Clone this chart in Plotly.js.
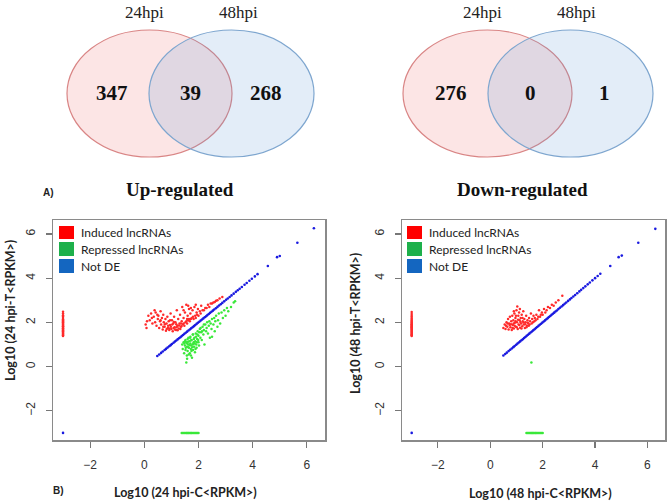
<!DOCTYPE html>
<html>
<head>
<meta charset="utf-8">
<script src="https://cdn.plot.ly/plotly-3.0.1.min.js"></script>
<style>html,body{margin:0;padding:0;background:#fff;}#chart{width:669px;height:502px;}</style>
</head>
<body>
<div id="chart"></div>
<script>
// ---------------- DATA ----------------
const vennSets = ['24hpi', '48hpi'];
const upCounts = [347, 39, 268];     // only 24hpi, both, only 48hpi
const downCounts = [276, 0, 1];
const vennTitles = ['Up-regulated', 'Down-regulated'];
const legendLabels = ['Induced lncRNAs', 'Repressed lncRNAs', 'Not DE'];
const xTitles = ['Log10 (24 hpi-C&lt;RPKM&gt;)', 'Log10 (48 hpi-C&lt;RPKM&gt;)'];
const yTitles = ['Log10 (24 hpi-T&lt;RPKM&gt;)', 'Log10 (48 hpi-T&lt;RPKM&gt;)'];
const tickVals = [-2, 0, 2, 4, 6];

// 24 hpi - induced (red)
const induced24X = [-3,-3,-3,-3,-3,-3,-3,-3,-3,-3,-3,-3,-3,-3,-3,-3,-3,-3,-3,-3,-3,-3,-3,-3,-3,-3,-3,
 0.05,0.08,0.15,0.2,0.25,0.3,0.35,0.4,0.42,0.45,0.5,0.52,0.55,0.58,0.6,0.62,0.65,0.68,0.7,0.72,0.75,0.78,0.8,0.82,0.85,0.87,0.9,0.92,0.95,0.97,1.0,1.02,1.05,1.07,1.1,1.12,1.15,1.17,1.2,1.22,1.25,1.27,1.3,1.32,1.35,1.38,1.4,1.42,1.45,1.48,1.5,1.52,1.55,1.58,1.6,1.62,1.65,1.68,1.7,1.72,1.75,1.78,1.8,1.82,1.85,1.88,1.9,1.93,1.95,1.98,2.0,2.05,2.08,2.1,2.15,2.2,2.25,2.3,2.35,2.4,2.5,2.55,2.6,2.7,2.78,
 0.88,0.93,0.98,1.03,1.08,1.13,1.18,1.23,1.28,1.33,1.37,0.76,0.83,1.09,1.19,0.95,0.7,0.6,1.45,1.55,1.65,1.58,1.35,0.1,0.28,0.38,0.48,1.45,1.62,1.72,1.9,2.45,2.65,2.88];
const induced24Y = [1.38,1.42,1.45,1.5,1.53,1.57,1.6,1.64,1.67,1.7,1.73,1.76,1.8,1.83,1.86,1.9,1.94,1.97,2.0,2.05,2.1,2.14,2.2,2.26,2.32,2.4,2.48,
 1.9,1.75,2.3,2.1,2.4,1.95,2.25,2.0,2.45,1.85,2.15,2.3,1.75,2.05,2.5,1.9,2.2,1.68,2.35,2.0,1.8,2.15,1.62,1.95,2.25,1.75,2.05,1.65,1.88,2.4,1.7,2.1,1.6,1.95,2.25,1.78,2.0,1.66,2.55,1.85,2.15,1.72,1.95,2.35,1.8,2.05,2.7,1.9,2.2,1.85,2.45,2.0,2.8,1.95,2.3,2.1,2.6,2.05,2.4,2.15,2.2,2.55,2.25,2.15,2.7,2.3,2.2,2.45,2.35,2.6,2.3,2.5,2.4,2.75,2.55,2.55,2.65,2.65,2.8,2.7,2.85,2.9,2.92,3.0,3.08,
 1.85,1.72,1.8,1.9,1.74,1.68,1.92,1.64,1.86,1.7,1.82,1.92,1.7,2.02,1.78,2.1,1.8,2.1,1.95,2.05,2.15,2.15,1.95,2.05,2.2,2.55,2.35,2.55,2.75,2.65,2.8,2.85,2.98,3.15];

// 24 hpi - repressed (green)
const repressed24X = [1.38,1.42,1.46,1.5,1.54,1.57,1.6,1.63,1.66,1.7,1.73,1.76,1.8,1.84,1.88,1.92,1.96,2.0,
 1.4,1.42,1.45,1.47,1.5,1.5,1.52,1.55,1.55,1.57,1.58,1.6,1.6,1.62,1.63,1.65,1.66,1.68,1.7,1.7,1.72,1.73,1.75,1.76,1.78,1.8,1.8,1.82,1.84,1.85,1.87,1.88,1.9,1.92,1.93,1.95,1.97,2.0,2.0,2.02,2.05,2.07,2.1,2.12,2.15,2.18,2.2,2.22,2.25,2.28,2.3,2.32,2.35,2.38,2.4,2.42,2.45,2.48,2.5,2.5,2.55,2.58,2.6,2.62,2.65,2.7,2.72,2.75,2.8,2.85,2.9,2.95,3.0,3.05,3.1,3.2,3.3,3.35,
 1.48,1.53,1.58,1.62,1.67,1.71,1.74,1.77,1.81,1.83,1.86,1.89,1.91,1.94,1.96,1.99,1.52,1.61,1.69,1.79,1.64,1.58,1.72,2.03,2.08,2.13,2.2];
const repressed24Y = [-3,-3,-3,-3,-3,-3,-3,-3,-3,-3,-3,-3,-3,-3,-3,-3,-3,-3,
 1.0,0.8,1.1,0.6,0.95,1.15,0.75,1.1,0.18,0.5,0.9,1.25,0.7,1.0,1.3,0.85,1.15,0.6,1.05,1.35,0.8,0.95,1.2,0.4,1.0,1.45,0.75,1.1,0.9,1.3,0.65,1.15,1.5,1.0,0.85,1.25,1.6,1.1,1.4,0.95,1.7,1.3,1.55,1.2,1.8,1.45,1.65,1.0,1.9,1.6,1.75,2.0,1.5,1.85,2.05,1.3,1.95,1.7,2.15,1.35,1.9,2.2,1.6,2.05,2.3,1.8,2.1,2.4,1.95,2.45,2.2,2.55,2.3,2.65,2.5,2.7,2.9,2.95,
 1.05,0.85,1.05,0.88,0.98,1.18,0.7,0.88,1.02,1.25,1.05,0.8,1.35,1.1,1.45,1.2,1.2,1.12,1.3,1.45,0.55,0.35,0.5,1.55,1.75,1.6,1.9];

// 24 hpi - not DE (blue)
const notDE24X = [-3,0.48,0.55,0.62,0.68,0.75,0.8,0.86,0.92,0.97,1.02,1.08,1.13,1.18,1.23,1.28,1.33,1.38,1.43,1.48,1.53,1.58,1.63,1.68,1.73,1.78,1.83,1.88,1.93,1.98,2.03,2.08,2.13,2.18,2.23,2.28,2.33,2.38,2.43,2.48,2.53,2.58,2.64,2.7,2.76,2.82,2.88,2.95,3.02,3.08,3.15,3.22,3.3,3.38,3.45,3.52,3.6,3.7,3.78,3.88,3.97,4.08,4.18,4.56,4.9,5.0,5.65,6.26];
const notDE24Y = [-3,0.48,0.55,0.62,0.68,0.75,0.8,0.86,0.92,0.97,1.02,1.08,1.13,1.18,1.23,1.28,1.33,1.38,1.43,1.48,1.53,1.58,1.63,1.68,1.73,1.78,1.83,1.88,1.93,1.98,2.03,2.08,2.13,2.18,2.23,2.28,2.33,2.38,2.43,2.48,2.53,2.58,2.64,2.7,2.76,2.82,2.88,2.95,3.02,3.08,3.15,3.22,3.3,3.38,3.45,3.52,3.6,3.7,3.78,3.88,3.97,4.08,4.18,4.55,4.95,5.0,5.6,6.26];

// 48 hpi - induced (red)
const induced48X = [-3,-3,-3,-3,-3,-3,-3,-3,-3,-3,-3,-3,-3,-3,-3,-3,-3,-3,-3,-3,-3,-3,-3,-3,-3,-3,
 0.5,0.55,0.58,0.62,0.65,0.68,0.7,0.72,0.75,0.77,0.8,0.82,0.84,0.86,0.88,0.9,0.92,0.94,0.96,0.98,1.0,1.02,1.03,1.05,1.07,1.08,1.1,1.12,1.14,1.16,1.18,1.2,1.22,1.24,1.26,1.28,1.3,1.32,1.35,1.37,1.4,1.42,1.45,1.48,1.5,1.52,1.55,1.58,1.6,1.63,1.65,1.68,1.7,1.73,1.76,1.8,1.83,1.86,1.9,1.93,1.97,2.0,2.05,2.1,2.15,2.2,2.28,2.35,2.42,2.5,2.6,2.75,
 0.74,0.79,0.85,0.89,0.93,0.97,1.01,1.06,1.11,1.15,1.19,1.23,1.27,1.33,1.38,1.43,1.47,0.66,0.6,0.98,0.9,1.13];
const induced48Y = [1.38,1.42,1.46,1.5,1.54,1.58,1.61,1.65,1.68,1.72,1.75,1.78,1.82,1.85,1.88,1.92,1.95,1.99,2.03,2.07,2.12,2.18,2.24,2.3,2.38,2.47,
 1.75,1.9,1.7,2.0,1.8,2.15,1.68,1.95,2.25,1.78,2.05,1.65,2.3,1.88,2.1,1.72,2.4,1.98,2.2,1.8,2.55,2.0,2.72,1.7,2.3,1.9,2.45,2.1,1.76,2.2,1.95,2.35,1.82,2.05,2.5,1.9,2.15,1.75,2.0,2.3,1.85,2.1,1.95,2.2,1.9,2.05,2.4,1.95,2.15,2.0,2.3,2.05,2.2,2.1,2.35,2.15,2.25,2.55,2.25,2.35,2.45,2.35,2.6,2.45,2.55,2.7,2.65,2.8,2.75,2.9,3.0,3.2,
 1.88,1.92,1.75,1.95,1.85,2.05,1.78,2.12,1.88,2.02,1.72,2.2,2.0,1.92,1.78,1.98,1.85,1.95,1.85,2.3,2.5,2.6];

// 48 hpi - repressed (green)
const repressed48X = [1.57,1.38,1.42,1.46,1.5,1.54,1.57,1.6,1.63,1.66,1.7,1.73,1.76,1.8,1.84,1.88,1.92,1.96,2.0];
const repressed48Y = [0.18,-3,-3,-3,-3,-3,-3,-3,-3,-3,-3,-3,-3,-3,-3,-3,-3,-3,-3];

// 48 hpi - not DE (blue)
const notDE48X = [-3,0.5,0.57,0.63,0.7,0.76,0.82,0.88,0.93,0.99,1.04,1.09,1.14,1.19,1.24,1.29,1.34,1.39,1.44,1.49,1.54,1.59,1.64,1.69,1.74,1.79,1.84,1.89,1.94,1.99,2.04,2.09,2.14,2.19,2.24,2.29,2.34,2.39,2.44,2.49,2.54,2.6,2.66,2.72,2.78,2.84,2.9,2.97,3.04,3.1,3.17,3.24,3.32,3.4,3.47,3.55,3.63,3.72,3.8,3.9,4.0,4.1,4.2,4.58,4.9,5.02,5.65,6.3];
const notDE48Y = [-3,0.5,0.57,0.63,0.7,0.76,0.82,0.88,0.93,0.99,1.04,1.09,1.14,1.19,1.24,1.29,1.34,1.39,1.44,1.49,1.54,1.59,1.64,1.69,1.74,1.79,1.84,1.89,1.94,1.99,2.04,2.09,2.14,2.19,2.24,2.29,2.34,2.39,2.44,2.49,2.54,2.6,2.66,2.72,2.78,2.84,2.9,2.97,3.04,3.1,3.17,3.24,3.32,3.4,3.47,3.55,3.63,3.72,3.8,3.9,4.0,4.1,4.2,4.55,4.95,5.02,5.6,6.23];

// ---------------- STYLE / LAYOUT ----------------
const W = 669, H = 502;
const px = v => v / W;
const py = v => 1 - v / H;
const RED = '#ff2a2a', GREEN = '#3ae83a', BLUE = '#1a1ae0';
const LEG = ['#ff0000', '#1db04b', '#1466c0'];
const SERIF = 'Liberation Serif, Times New Roman, serif';
const SANS = 'Lato, Liberation Sans, Arial, sans-serif';

function pts(x, y, color, xa, ya, size) {
  return {type: 'scatter', mode: 'markers', x: x, y: y, xaxis: xa, yaxis: ya,
    marker: {color: color, size: size || 2.5, line: {width: 0}}, showlegend: false, hoverinfo: 'x+y'};
}
const traces = [
  pts(induced24X, induced24Y, RED, 'x', 'y'),
  pts(repressed24X, repressed24Y, GREEN, 'x', 'y'),
  pts(notDE24X, notDE24Y, BLUE, 'x', 'y', 2.6),
  pts(induced48X, induced48Y, RED, 'x2', 'y2'),
  pts(repressed48X, repressed48Y, GREEN, 'x2', 'y2'),
  pts(notDE48X, notDE48Y, BLUE, 'x2', 'y2', 2.6)
];

function xax(dom) {
  return {domain: dom, range: [-3.37, 6.67], tickvals: tickVals, ticks: 'outside', ticklen: 6,
    tickcolor: '#777', tickwidth: 1.2, showline: true, mirror: true, linecolor: '#8a8a8a', linewidth: 1.5,
    showgrid: false, zeroline: false, ticklabelstandoff: 7,
    tickfont: {family: 'Liberation Sans, Arial, sans-serif', size: 12, color: '#333'}};
}
function yax(anchor) {
  return {domain: [py(440), py(220)], range: [-3.32, 6.63], tickvals: tickVals, ticks: 'outside', ticklen: 6,
    tickcolor: '#777', tickwidth: 1.2, showline: true, mirror: true, linecolor: '#8a8a8a', linewidth: 1.5,
    showgrid: false, zeroline: false, tickangle: -90, ticklabelstandoff: 6, anchor: anchor,
    tickfont: {family: 'Liberation Sans, Arial, sans-serif', size: 12, color: '#333'}};
}

const shapes = [];
const annotations = [];
function ann(text, x, y, font, extra) {
  annotations.push(Object.assign({text: text, xref: 'paper', yref: 'paper', x: px(x), y: py(y),
    xanchor: 'center', yanchor: 'middle', showarrow: false, font: font}, extra || {}));
}
function ellipse(x0, x1, y0, y1, fill, line) {
  shapes.push({type: 'circle', xref: 'paper', yref: 'paper', x0: px(x0), x1: px(x1), y0: py(y1), y1: py(y0),
    fillcolor: fill, line: {color: line, width: 1.2}, layer: 'below'});
}

// Venn diagrams
const vennCfg = [
  {red: [67, 232], blue: [149, 314], lab: [144, 238], num: [112, 191, 266], numY: 93, title: 180, counts: upCounts},
  {red: [403, 572], blue: [488, 653], lab: [482, 576], num: [451, 530, 604], numY: 93, title: 522, counts: downCounts}
];
vennCfg.forEach((c, i) => {
  ellipse(c.red[0], c.red[1], 30, 157, 'rgba(236,100,100,0.17)', '#d98585');
  ellipse(c.blue[0], c.blue[1], 30, 157, 'rgba(90,150,215,0.17)', '#7ea6cf');
  vennSets.forEach((s, j) => ann(s, c.lab[j], 13, {family: SERIF, size: 17, color: '#222'}));
  c.counts.forEach((n, j) => ann('<b>' + n + '</b>', c.num[j], c.numY, {family: SERIF, size: 21, color: '#111'}));
  ann('<b>' + vennTitles[i] + '</b>', c.title, 189, {family: SERIF, size: 19, color: '#111'});
});
ann('<b>A)</b>', 49, 192, {family: 'Liberation Sans, Arial, sans-serif', size: 10, color: '#222'});
ann('<b>B)</b>', 58, 490, {family: 'Liberation Sans, Arial, sans-serif', size: 10, color: '#222'});

// scatter legends
const legCfg = [{sq: 59, tx: 79}, {sq: 407, tx: 427}];
const rowY = [[226, 239], [242, 256], [259, 273]];
legCfg.forEach(c => {
  legendLabels.forEach((lab, k) => {
    shapes.push({type: 'rect', xref: 'paper', yref: 'paper', x0: px(c.sq), x1: px(c.sq + 15),
      y0: py(rowY[k][1]), y1: py(rowY[k][0]), fillcolor: LEG[k], line: {width: 0}});
    ann(lab, c.tx, (rowY[k][0] + rowY[k][1]) / 2, {family: SANS, size: 12, color: '#222'}, {xanchor: 'left'});
  });
});

// axis titles
ann('<b>' + xTitles[0] + '</b>', 185, 492, {family: SANS, size: 12.5, color: '#222'});
ann('<b>' + xTitles[1] + '</b>', 540, 493, {family: SANS, size: 12.5, color: '#222'});
ann('<b>' + yTitles[0] + '</b>', 10, 311, {family: SANS, size: 12.5, color: '#222'}, {textangle: -90});
ann('<b>' + yTitles[1] + '</b>', 355, 324, {family: SANS, size: 12.5, color: '#222'}, {textangle: -90});

const layout = {
  width: W, height: H, margin: {l: 0, r: 0, t: 0, b: 0},
  paper_bgcolor: '#fff', plot_bgcolor: 'rgba(0,0,0,0)', showlegend: false,
  xaxis: Object.assign(xax([px(53), px(325)]), {anchor: 'y'}),
  yaxis: yax('x'),
  xaxis2: Object.assign(xax([px(402), px(665)]), {anchor: 'y2'}),
  yaxis2: yax('x2'),
  shapes: shapes, annotations: annotations
};
Plotly.newPlot('chart', traces, layout, {displayModeBar: false, staticPlot: true});
</script>
</body>
</html>
